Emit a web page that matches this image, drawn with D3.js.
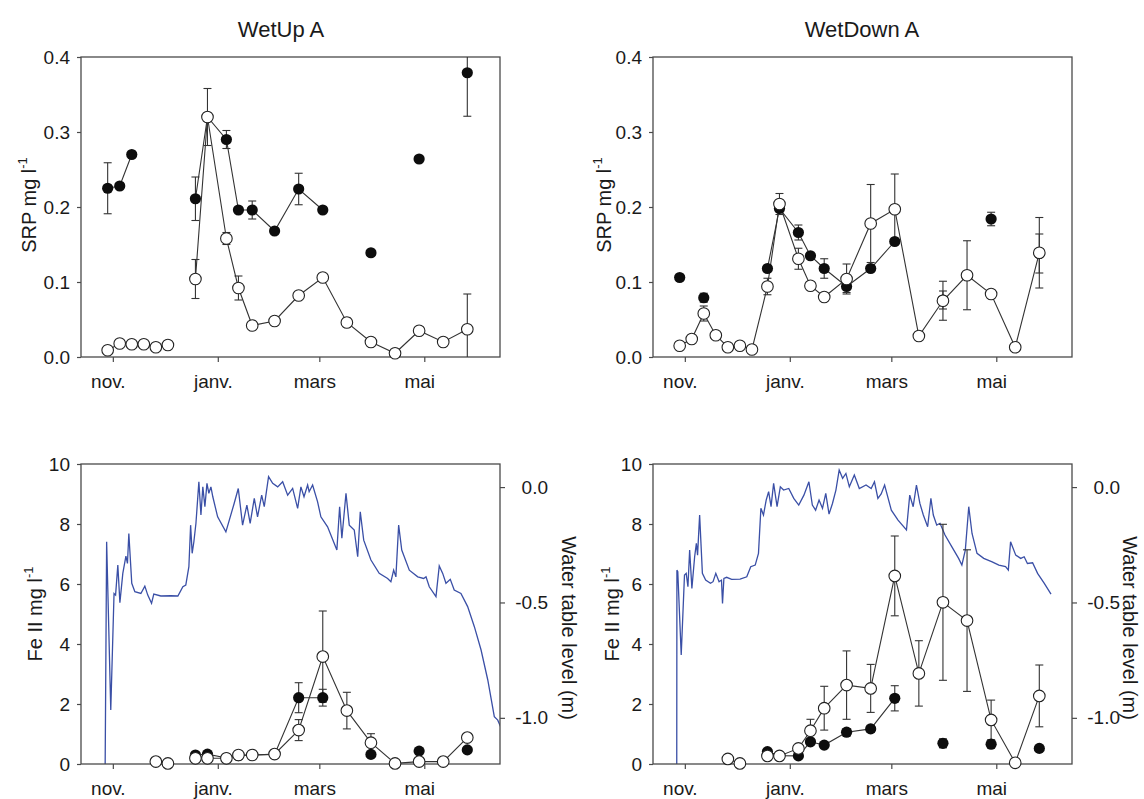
<!DOCTYPE html>
<html><head><meta charset="utf-8">
<script src="https://cdn.jsdelivr.net/npm/d3@7"></script>
<style>
body{margin:0;background:#fff;}
svg{display:block;}
text{font-family:"Liberation Sans", Arial, sans-serif;fill:#1a1a1a;}
</style>
</head><body>
<svg id="chart" width="1144" height="799"></svg>
<script>
// ---------------- DATA ----------------
const sampleDates = ["2010-10-29","2010-11-05","2010-11-12","2010-11-19","2010-11-26","2010-12-03","2010-12-10",
  "2010-12-19","2010-12-26","2011-01-06","2011-01-13","2011-01-21","2011-02-03","2011-02-17","2011-03-03",
  "2011-03-17","2011-03-31","2011-04-14","2011-04-28","2011-05-12","2011-05-26"];

const tickDates = ["2010-11-01","2011-01-01","2011-03-01","2011-05-01"];
const tickLabels = ["nov.","janv.","mars","mai"];
const srpTicks = [0,0.1,0.2,0.3,0.4];
const feTicks = [0,2,4,6,8,10];
const wtTicks = [0,-0.5,-1.0];
const titles = ["WetUp A","WetDown A"];

// SRP (mg/l) WetUp A
const srpUpFilled    = [0.225,0.228,0.270,null,null,null,null,0.211,0.320,0.290,0.196,0.196,0.168,0.224,0.196,null,0.139,null,0.264,null,0.379];
const srpUpFilledErr = [0.034,0,0,null,null,null,null,0.029,0,0.012,0,0.012,0,0.021,0,null,0,null,0,null,0.058];
const srpUpOpen      = [0.009,0.018,0.017,0.017,0.013,0.016,null,0.104,0.320,0.158,0.092,0.042,0.048,0.082,0.106,0.046,0.020,0.005,0.035,0.020,0.037];
const srpUpOpenErr   = [0,0,0,0,0,0,null,0.026,0.038,0.008,0.016,0,0,0,0,0.006,0,0,0,0,0.047];

// SRP (mg/l) WetDown A
const srpDownFilled    = [0.106,null,0.079,null,null,null,null,0.118,0.198,0.166,0.135,0.118,0.094,0.118,0.154,null,0.076,null,0.184,null,0.138];
const srpDownFilledErr = [0,null,0.006,null,null,null,null,0,0,0.010,0,0.013,0.008,0,0,null,0.012,null,0.009,null,0.026];
const srpDownOpen      = [0.015,0.024,0.058,0.029,0.013,0.015,0.010,0.094,0.204,0.131,0.095,0.080,0.104,0.178,0.197,0.028,0.075,0.109,0.084,0.013,0.139];
const srpDownOpenErr   = [0,0,0.010,0,0,0,0,0.011,0.014,0.014,0,0,0.020,0.052,0.047,0,0.026,0.046,0,0,0.047];

// Fe II (mg/l) WetUp A
const feUpFilled    = [null,null,null,null,null,null,null,0.30,0.33,0.20,0.28,0.30,0.32,2.21,2.21,null,0.32,null,0.43,null,0.47];
const feUpFilledErr = [null,null,null,null,null,null,null,0,0,0,0,0,0,0.50,0.28,null,0,null,0,null,0];
const feUpOpen      = [null,null,null,null,0.08,0.02,null,0.19,0.19,0.19,0.30,0.30,0.33,1.13,3.58,1.78,0.71,0.02,0.08,0.08,0.88];
const feUpOpenErr   = [null,null,null,null,0,0,null,0,0,0,0,0,0,0.35,1.52,0.61,0.30,0,0,0,0];

// Fe II (mg/l) WetDown A
const feDownFilled    = [null,null,null,null,null,null,null,0.41,0.28,0.27,0.74,0.63,1.06,1.17,2.19,null,0.69,null,0.66,null,0.52];
const feDownFilledErr = [null,null,null,null,null,null,null,0,0,0,0,0,0.12,0.12,0.42,null,0.15,null,0,null,0];
const feDownOpen      = [null,null,null,null,0.17,0.02,null,0.27,0.27,0.52,1.11,1.86,2.63,2.52,6.27,3.02,5.39,4.78,1.47,0.04,2.27];
const feDownOpenErr   = [null,null,null,null,0,0,null,0,0,0,0.38,0.73,1.14,0.80,1.33,1.09,2.60,2.36,0.66,0,1.03];

// Water table level (m), days since 1 Nov 2010
const wtDaysUp  = [-4.5,-3.6,-1.2,0.7,1.6,2.9,4.1,5.8,7.6,8.5,9.3,11.0,12.8,16.3,18.6,20.3,22.5,23.8,27.9,33.7,37.8,40.7,42.4,44.2,45.2,46.1,47.1,48.3,50.0,51.2,52.3,53.5,54.7,55.8,57.0,58.1,60.9,65.7,70.5,72.9,75.4,77.9,79.8,82.2,84.1,86.5,88.0,90.5,92.9,95.8,98.7,101.6,104.5,107.4,109.3,111.1,113.2,114.1,116.1,119.0,120.9,124.8,130.2,131.8,133.1,135.5,137.4,140.3,142.3,143.8,145.8,150.0,154.8,159.7,161.6,163.2,164.5,166.1,167.9,172.3,177.2,180.6,182.0,183.9,187.8,189.7,191.7,193.6,196.1,198.4,202.3,206.2,210.1,214.0,217.9,221.7,223.7,226.2];
const wtLevelUp = [-1.25,-0.237,-0.966,-0.461,-0.468,-0.338,-0.501,-0.374,-0.299,-0.331,-0.201,-0.417,-0.453,-0.461,-0.429,-0.468,-0.504,-0.464,-0.472,-0.471,-0.472,-0.432,-0.425,-0.345,-0.165,-0.287,-0.237,-0.157,0.023,-0.121,0.001,-0.085,0.016,-0.027,0.001,-0.042,-0.129,-0.194,-0.071,-0.006,-0.165,-0.078,-0.157,-0.049,-0.129,-0.035,-0.085,0.045,0.016,0.001,0.023,-0.035,-0.006,-0.092,0.001,-0.042,0.009,-0.020,0.009,-0.064,-0.129,-0.172,-0.273,-0.085,-0.222,-0.027,-0.165,-0.186,-0.302,-0.107,-0.230,-0.316,-0.374,-0.396,-0.410,-0.360,-0.389,-0.165,-0.273,-0.360,-0.389,-0.396,-0.389,-0.432,-0.475,-0.342,-0.374,-0.417,-0.400,-0.446,-0.461,-0.518,-0.605,-0.706,-0.836,-0.995,-1.010,-1.053];

const wtDaysDown  = [-4.7,-4.6,-4.1,-2.1,-0.2,0.8,1.8,2.8,4.1,5.7,6.7,7.4,8.6,10.2,12.1,14.9,16.4,18.0,19.9,21.3,21.9,22.7,24.3,27.2,32.1,36.0,38.3,40.9,42.8,44.2,45.7,47.3,48.7,50.1,51.6,53.6,55.5,57.4,60.4,63.3,66.2,69.2,72.1,74.1,76.0,78.0,80.0,81.9,83.8,85.8,87.8,89.7,91.7,93.6,95.6,98.5,101.4,105.3,108.3,110.2,112.2,114.1,116.1,120.0,123.9,128.8,130.7,132.7,134.6,136.6,138.6,141.1,143.0,144.4,146.4,148.3,151.2,155.2,159.1,161.0,163.0,165.0,166.9,169.8,173.7,178.6,182.5,186.4,188.0,189.3,192.3,195.2,197.2,199.1,202.1,205.0,208.9,212.8];
const wtLevelDown = [-1.25,-0.360,-0.367,-0.728,-0.381,-0.374,-0.432,-0.273,-0.439,-0.302,-0.244,-0.295,-0.121,-0.374,-0.403,-0.417,-0.410,-0.374,-0.410,-0.403,-0.504,-0.396,-0.391,-0.400,-0.399,-0.389,-0.345,-0.338,-0.287,-0.092,-0.121,-0.056,-0.020,-0.085,0.016,-0.085,0.001,-0.013,-0.006,-0.049,-0.078,-0.035,0.023,-0.078,-0.100,-0.056,-0.092,-0.027,-0.117,-0.071,-0.013,0.074,0.038,0.059,0.001,0.052,-0.006,0.009,-0.006,0.023,-0.049,-0.030,0.009,-0.100,-0.143,-0.186,-0.035,-0.085,0.009,-0.071,-0.121,-0.172,-0.049,-0.121,-0.165,-0.157,-0.208,-0.259,-0.309,-0.338,-0.273,-0.085,-0.201,-0.287,-0.309,-0.324,-0.338,-0.345,-0.360,-0.237,-0.295,-0.309,-0.302,-0.331,-0.328,-0.374,-0.417,-0.464];

// ---------------- DRAWING ----------------
const parse = d3.timeParse("%Y-%m-%d");
const dates = sampleDates.map(parse);
const nov1 = parse("2010-11-01");
const W = 419, H = 300;
const svg = d3.select("#chart");
const ink = "#1a1a1a", frame = "#4a4a4a", blue = "#3a4fa6";
const fmt1 = v => d3.format(".1f")(v).replace("\u2212","-");

function series(vals, errs) {
  return vals.map((v,i) => ({d: dates[i], v: v, e: errs[i]}));
}

let clipId = 0;
function drawPanel(cfg) {
  const x = d3.scaleTime().domain([new Date(2010,9,13,12), new Date(2011,5,14)]).range([cfg.left, cfg.left + W]);
  const y = d3.scaleLinear().domain(cfg.yDomain).range([cfg.top + H, cfg.top]);
  const g = svg.append("g");
  const cid = "clip" + (clipId++);
  svg.append("clipPath").attr("id", cid).append("rect")
    .attr("x", cfg.left).attr("y", cfg.top).attr("width", W).attr("height", H);

  // water table
  if (cfg.wtDays) {
    const yw = d3.scaleLinear().domain([-1.2, 0.1]).range([cfg.top + H, cfg.top]);
    const wt = cfg.wtDays.map((d,i) => ({d: new Date(nov1.getTime() + d*864e5), v: cfg.wtLevel[i]}));
    g.append("path").datum(wt).attr("clip-path", `url(#${cid})`)
      .attr("fill","none").attr("stroke", blue).attr("stroke-width",1.3)
      .attr("d", d3.line().x(d=>x(d.d)).y(d=>yw(d.v)));
    const ra = g.append("g").attr("transform", `translate(${cfg.left+W},0)`)
      .call(d3.axisRight(yw).tickValues(wtTicks).tickFormat(fmt1).tickSize(5));
    ra.select(".domain").remove();
    ra.selectAll(".tick line").attr("stroke", frame).attr("stroke-width",1.2);
    ra.selectAll(".tick text").attr("x", 48).attr("text-anchor","end")
      .style("font-size","19px").style("font-family",'"Liberation Sans", Arial, sans-serif').attr("fill", ink);
    g.append("text").attr("transform", `translate(${cfg.wtLabelX},628) rotate(90)`)
      .attr("text-anchor","middle").attr("dominant-baseline","central")
      .style("font-size","20px").text("Water table level (m)");
  }

  // frame
  g.append("rect").attr("x", cfg.left).attr("y", cfg.top).attr("width", W).attr("height", H)
    .attr("fill","none").attr("stroke", frame).attr("stroke-width",1.3);

  // axes
  const xa = g.append("g").attr("transform", `translate(0,${cfg.top+H})`)
    .call(d3.axisBottom(x).tickValues(tickDates.map(parse)).tickFormat((d,i)=>tickLabels[i]).tickSize(5).tickPadding(13));
  xa.select(".domain").remove();
  xa.selectAll(".tick line").attr("stroke", frame).attr("stroke-width",1.2);
  xa.selectAll(".tick text").attr("dx", -5).style("font-size","19px")
    .style("font-family",'"Liberation Sans", Arial, sans-serif').attr("fill", ink);

  const ya = g.append("g").attr("transform", `translate(${cfg.left},0)`)
    .call(d3.axisLeft(y).tickValues(cfg.yTicks).tickFormat(cfg.yFmt).tickSize(4).tickPadding(7));
  ya.select(".domain").remove();
  ya.selectAll(".tick line").attr("stroke", frame).attr("stroke-width",1.2);
  ya.selectAll(".tick text").style("font-size","19px")
    .style("font-family",'"Liberation Sans", Arial, sans-serif').attr("fill", ink);

  const yl = g.append("text").attr("transform", `translate(${cfg.ylabelX},${cfg.ylabelY}) rotate(-90)`)
    .attr("text-anchor","middle").attr("dominant-baseline","central").style("font-size","20px");
  yl.append("tspan").text(cfg.ylabel);
  yl.append("tspan").attr("dy",-7).style("font-size","13px").text("-1");

  if (cfg.title) {
    g.append("text").attr("x", cfg.titleX).attr("y", 37).attr("text-anchor","middle")
      .style("font-size","22px").text(cfg.title);
  }

  const F = series(cfg.filled, cfg.filledErr), O = series(cfg.open, cfg.openErr);
  const line = d3.line().defined(d => d.v != null).x(d=>x(d.d)).y(d=>y(d.v));

  // error bars
  const eb = g.append("g").attr("clip-path", `url(#${cid})`).attr("stroke", "#333").attr("stroke-width",1.1);
  [...F, ...O].filter(d => d.v != null && d.e).forEach(d => {
    const cx = x(d.d), y1 = y(d.v + d.e), y2 = y(d.v - d.e);
    eb.append("line").attr("x1",cx).attr("x2",cx).attr("y1",y1).attr("y2",y2);
    eb.append("line").attr("x1",cx-4).attr("x2",cx+4).attr("y1",y1).attr("y2",y1);
    eb.append("line").attr("x1",cx-4).attr("x2",cx+4).attr("y1",y2).attr("y2",y2);
  });

  g.append("path").datum(F).attr("fill","none").attr("stroke","#333").attr("stroke-width",1.1).attr("d", line);
  g.append("path").datum(O).attr("fill","none").attr("stroke","#333").attr("stroke-width",1.1).attr("d", line);

  g.append("g").selectAll("circle").data(F.filter(d=>d.v!=null)).join("circle")
    .attr("cx", d=>x(d.d)).attr("cy", d=>y(d.v)).attr("r", 5.6).attr("fill", "#0d0d0d");
  g.append("g").selectAll("circle").data(O.filter(d=>d.v!=null)).join("circle")
    .attr("cx", d=>x(d.d)).attr("cy", d=>y(d.v)).attr("r", 5.8)
    .attr("fill", "#fff").attr("stroke", "#222").attr("stroke-width", 1.1);
}

drawPanel({left:81, top:57, title:titles[0], titleX:281, yDomain:[0,0.4], yTicks:srpTicks, yFmt:fmt1,
  ylabel:"SRP mg l", ylabelX:29, ylabelY:205,
  filled:srpUpFilled, filledErr:srpUpFilledErr, open:srpUpOpen, openErr:srpUpOpenErr});
drawPanel({left:653, top:57, title:titles[1], titleX:862, yDomain:[0,0.4], yTicks:srpTicks, yFmt:fmt1,
  ylabel:"SRP mg l", ylabelX:604, ylabelY:205,
  filled:srpDownFilled, filledErr:srpDownFilledErr, open:srpDownOpen, openErr:srpDownOpenErr});
drawPanel({left:81, top:464, yDomain:[0,10], yTicks:feTicks, yFmt:d3.format("d"),
  ylabel:"Fe II mg l", ylabelX:35, ylabelY:614,
  filled:feUpFilled, filledErr:feUpFilledErr, open:feUpOpen, openErr:feUpOpenErr,
  wtDays:wtDaysUp, wtLevel:wtLevelUp, wtLabelX:569});
drawPanel({left:653, top:464, yDomain:[0,10], yTicks:feTicks, yFmt:d3.format("d"),
  ylabel:"Fe II mg l", ylabelX:612, ylabelY:614,
  filled:feDownFilled, filledErr:feDownFilledErr, open:feDownOpen, openErr:feDownOpenErr,
  wtDays:wtDaysDown, wtLevel:wtLevelDown, wtLabelX:1130});
</script>
</body></html>
